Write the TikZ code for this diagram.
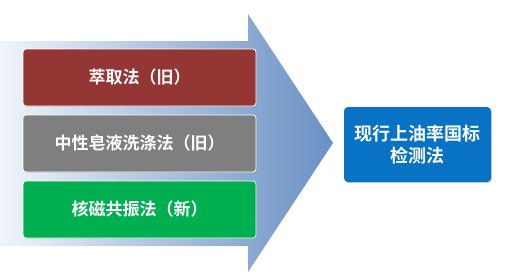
\documentclass[tikz,border=0pt]{standalone}
\usepackage{fontspec}
\setmainfont{Noto Sans CJK SC}[BoldFont={Noto Sans CJK SC Bold}]
\usetikzlibrary{shadows}
\definecolor{arrowblue}{RGB}{79,125,186}
\definecolor{boxred}{RGB}{148,54,52}
\definecolor{boxgray}{RGB}{127,127,127}
\definecolor{boxgreen}{RGB}{0,176,80}
\definecolor{boxblue}{RGB}{8,114,196}
\pgfdeclarehorizontalshading{arrowshade}{100bp}{color(0bp)=(white); color(20bp)=(white); color(45bp)=(arrowblue!40); color(75bp)=(arrowblue!85); color(100bp)=(arrowblue)}
\tikzset{
  method/.style={draw=white, line width=0.8pt, rounded corners=3pt, minimum width=233pt, minimum height=57pt, inner sep=0pt, text=white, font=\bfseries\fontsize{17}{20}\selectfont, drop shadow={shadow xshift=0.8pt, shadow yshift=-0.8pt, opacity=0.25}},
  result/.style={rounded corners=4pt, minimum width=147pt, minimum height=75pt, inner sep=0pt, text=white, align=center, fill=boxblue, font=\bfseries\fontsize{18}{22}\selectfont, drop shadow={shadow xshift=0.8pt, shadow yshift=-1.2pt, opacity=0.35}}
}
\begin{document}
\begin{tikzpicture}[x=1pt,y=-1pt]
\useasboundingbox (0,0) rectangle (516,277);
\shade[shading=arrowshade] (0,41) -- (248,41) -- (248,14) -- (333,143) -- (248,272) -- (248,246) -- (0,246) -- cycle;
\node[method, fill=boxred] (a) at (139.5,77.5) {萃取法（旧）};
\node[method, fill=boxgray] (b) at (139.5,143.5) {中性皂液洗涤法（旧）};
\node[method, fill=boxgreen] (c) at (139.5,209.5) {核磁共振法（新）};
\node[result] (r) at (417.5,144.5) {现行上油率国标\\检测法};
\end{tikzpicture}
\end{document}
